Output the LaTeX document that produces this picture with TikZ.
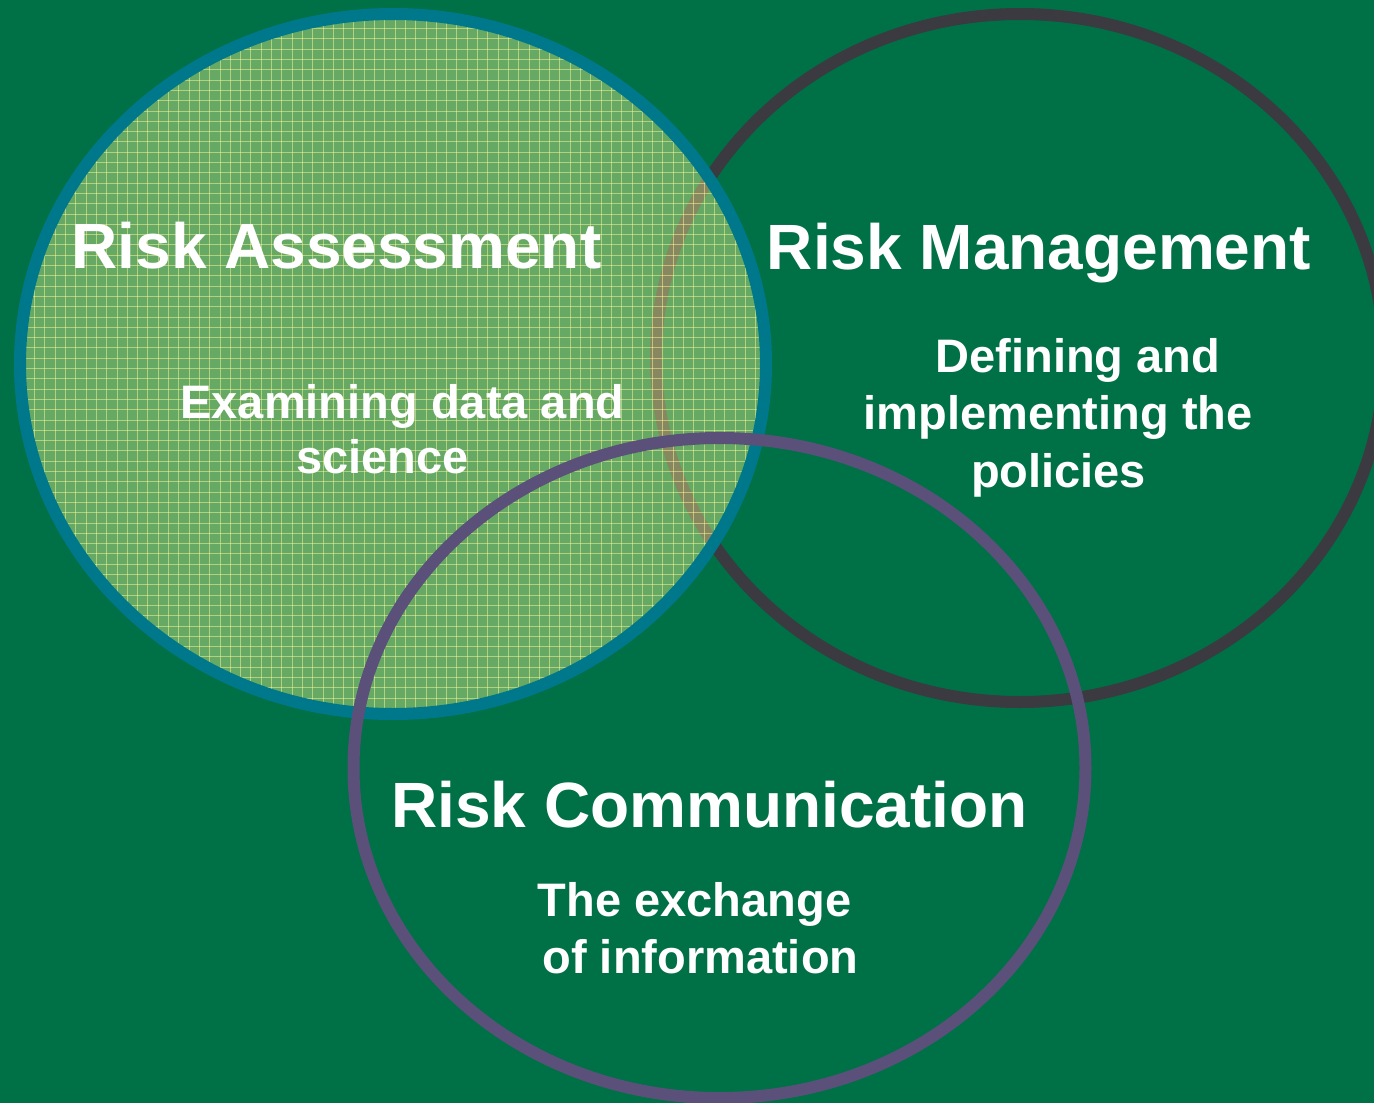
\documentclass[tikz,border=0pt]{standalone}
\usepackage{fontspec}
\setmainfont{Liberation Sans}
\definecolor{bggreen}{RGB}{0,112,70}
\definecolor{tealc}{RGB}{0,120,140}
\definecolor{darkc}{RGB}{58,58,64}
\definecolor{purplec}{RGB}{90,80,122}
\definecolor{fillc}{RGB}{255,255,145}
\definecolor{gridc}{RGB}{255,250,150}
\begin{document}
\begin{tikzpicture}[x=1pt,y=-1pt,
  title/.style={text=white,font=\bfseries\fontsize{64}{76}\selectfont,inner sep=0pt,anchor=base},
  body/.style={text=white,font=\bfseries\fontsize{47}{56}\selectfont,inner sep=0pt,anchor=base},
  ring/.style={line width=12pt}]
\useasboundingbox (0,0) rectangle (1374,1103);
\fill[bggreen] (0,0) rectangle (1374,1103);
% Risk Management circle
\draw[ring,darkc] (1020,358) ellipse [x radius=364, y radius=344];
% Risk Assessment circle (translucent gridded fill)
\fill[fillc,fill opacity=0.4] (393,364) ellipse [x radius=373, y radius=350];
\begin{scope}
  \clip (393,364) ellipse [x radius=373, y radius=350];
  \foreach \i in {0,...,75} {
    \draw[gridc,opacity=0.5,line width=1pt] (14+\i*10.3,0) -- (14+\i*10.3,730);
  }
  \foreach \i in {0,...,72} {
    \draw[gridc,opacity=0.5,line width=1pt] (0,8+\i*10.3) -- (780,8+\i*10.3);
  }
\end{scope}
\draw[ring,tealc] (393,364) ellipse [x radius=373, y radius=350];
% Risk Communication circle
\draw[ring,purplec] (719.5,768) ellipse [x radius=366, y radius=330];
% Texts
\node[title] (ra) at (336.5,268) {Risk Assessment};
\node[title] (rm) at (1039,269) {Risk Management};
\node[title] (rc) at (709.5,827) {Risk Communication};
\node[body] (ra1) at (402.5,418) {Examining data and};
\node[body] (ra2) at (382.5,473) {science};
\node[body] (rm1) at (1078,372) {Defining and};
\node[body] (rm2) at (1058,429) {implementing the};
\node[body] (rm3) at (1058.5,487) {policies};
\node[body] (rc1) at (694.5,916) {The exchange};
\node[body] (rc2) at (700.5,973) {of information};
\end{tikzpicture}
\end{document}
